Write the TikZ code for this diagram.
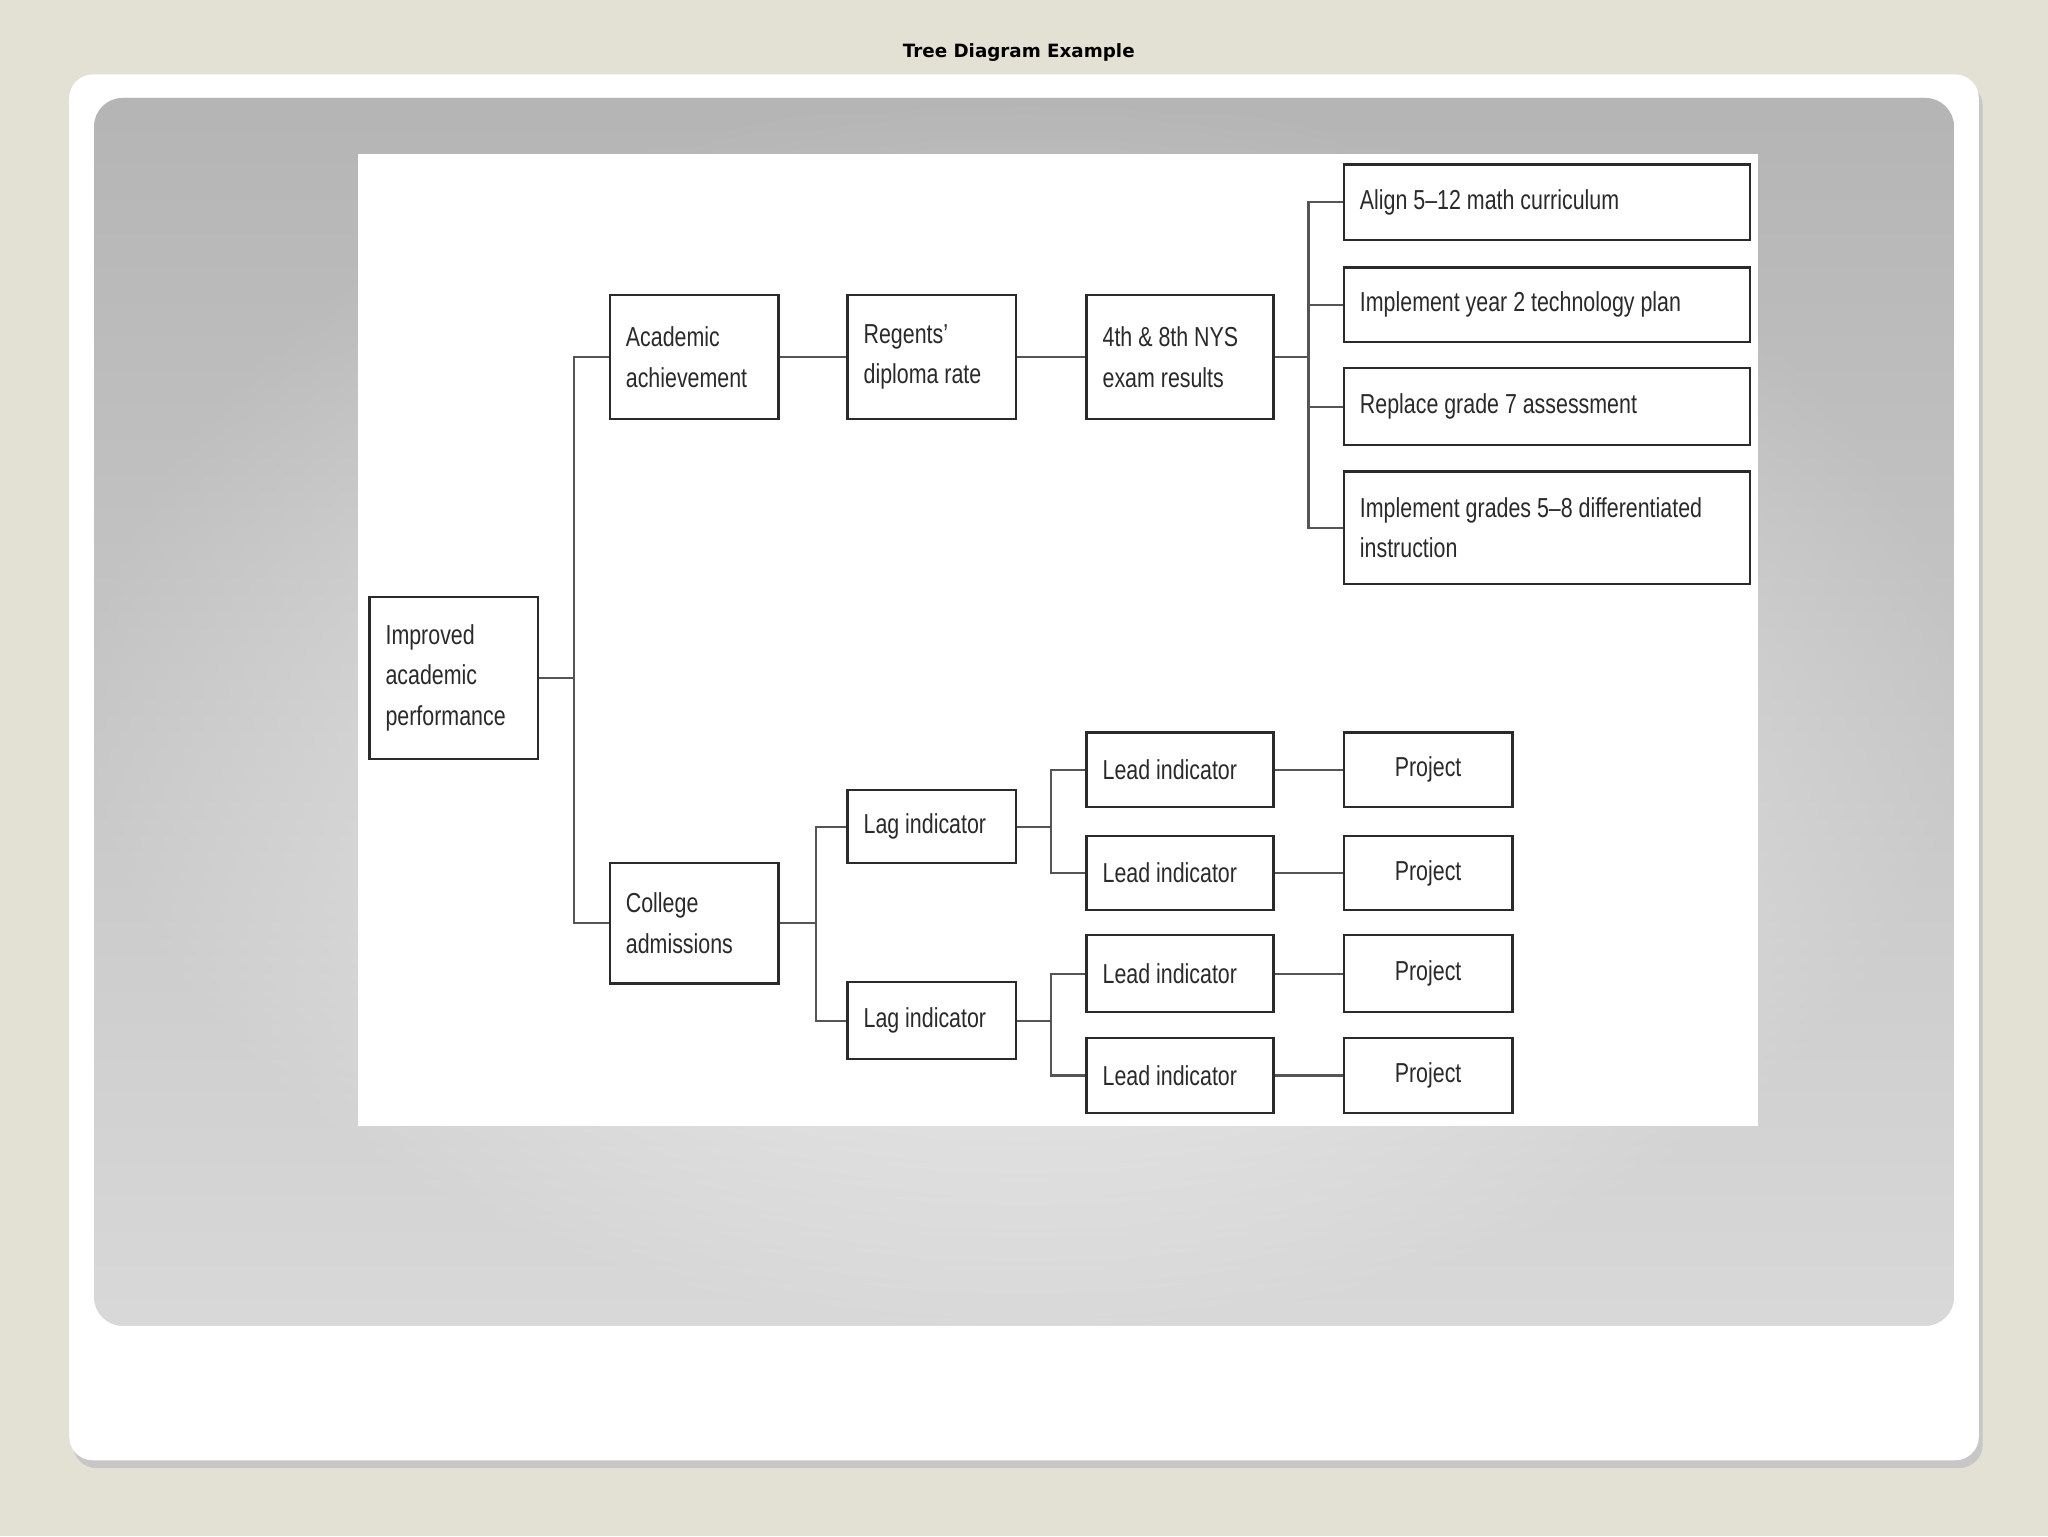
\documentclass[tikz,border=0pt]{standalone}
\usepackage{fontspec}
\setmainfont[FakeStretch=0.78]{Liberation Sans}
\newfontfamily\titlefont{DejaVu Sans}
\usetikzlibrary{positioning,shadows}
\definecolor{bgbeige}{HTML}{E3E0D4}
\definecolor{ink}{HTML}{2A2A2A}
\tikzset{
 bx/.style={draw=ink,line width=1.8pt,anchor=north west,align=left,inner sep=0pt,font=\fontsize{21}{31}\selectfont,text=ink},
 ln/.style={draw=ink!80,line width=1.6pt}
}
\newcommand{\mybox}[6]{\node[bx,minimum width=#4-#2,minimum height=#5-#3] (#1) at (#2,#3) {};
 \node[anchor=west,align=left,font=\fontsize{21}{31}\selectfont,text=ink,inner sep=0pt] at ([xshift=13pt]#1.west) {#6};}
\newcommand{\mycbox}[6]{\node[bx,minimum width=#4-#2,minimum height=#5-#3] (#1) at (#2,#3) {};
 \node[font=\fontsize{21}{31}\selectfont,text=ink,inner sep=0pt] at (#1.center) {#6};}
\begin{document}
\begin{tikzpicture}[x=1pt,y=-1pt]
\fill[bgbeige] (0,0) rectangle (1568,1176);
\useasboundingbox (0,0) rectangle (1568,1176);
\node[font=\titlefont\bfseries\fontsize{14}{16}\selectfont] (title) at (780,40) {Tree Diagram Example};
\fill[black!22,rounded corners=18pt] (56,63) rectangle (1518,1124);
\fill[white,rounded corners=18pt] (53,57) rectangle (1515,1118);
\shade[rounded corners=22pt,outer color=black!30,inner color=white] (72,75) rectangle (1496,1015);
\shade[rounded corners=22pt,top color=black!28,bottom color=white,opacity=0.5] (72,75) rectangle (1496,1015);
\fill[white] (274,118) rectangle (1346,862);
\mybox{imp}{282}{456}{411}{580}{Improved\\academic\\performance}
\mybox{aa}{466}{225}{595}{320}{Academic\\achievement}
\mybox{rg}{648}{225}{777}{320}{Regents'\\diploma rate}
\mybox{ny}{831}{225}{974}{320}{4th \& 8th NYS\\exam results}
\mybox{r1}{1028}{125}{1339}{183}{Align 5--12 math curriculum}
\mybox{r2}{1028}{204}{1339}{261}{Implement year 2 technology plan}
\mybox{r3}{1028}{281}{1339}{340}{Replace grade 7 assessment}
\mybox{r4}{1028}{360}{1339}{446}{Implement grades 5--8 differentiated\\instruction}
\mybox{ca}{466}{660}{595}{752}{College\\admissions}
\mybox{lg1}{648}{604}{777}{660}{Lag indicator}
\mybox{lg2}{648}{751}{777}{810}{Lag indicator}
\mybox{ld1}{831}{560}{974}{617}{Lead indicator}
\mybox{ld2}{831}{639}{974}{696}{Lead indicator}
\mybox{ld3}{831}{715}{974}{774}{Lead indicator}
\mybox{ld4}{831}{794}{974}{851}{Lead indicator}
\mycbox{p1}{1028}{560}{1157}{617}{Project}
\mycbox{p2}{1028}{639}{1157}{696}{Project}
\mycbox{p3}{1028}{715}{1157}{774}{Project}
\mycbox{p4}{1028}{794}{1157}{851}{Project}
\draw[ln] (imp.east) -- ++(27,0) coordinate (j1);
\draw[ln] (j1) |- (aa.west);
\draw[ln] (j1) |- (ca.west);
\draw[ln] (aa.east) -- (rg.west);
\draw[ln] (rg.east) -- (ny.west);
\draw[ln] (ny.east) -- ++(26,0) coordinate (j2);
\foreach \n in {r1,r2,r3,r4} \draw[ln] (j2) |- (\n.west);
\draw[ln] (ca.east) -- ++(28,0) coordinate (j3);
\draw[ln] (j3) |- (lg1.west);
\draw[ln] (j3) |- (lg2.west);
\draw[ln] (lg1.east) -- ++(26,0) coordinate (j4);
\draw[ln] (j4) |- (ld1.west);
\draw[ln] (j4) |- (ld2.west);
\draw[ln] (lg2.east) -- ++(26,0) coordinate (j5);
\draw[ln] (j5) |- (ld3.west);
\draw[ln] (j5) |- (ld4.west);
\draw[ln] (ld1.east) -- (p1.west);
\draw[ln] (ld2.east) -- (p2.west);
\draw[ln] (ld3.east) -- (p3.west);
\draw[ln] (ld4.east) -- (p4.west);
\end{tikzpicture}
\end{document}
